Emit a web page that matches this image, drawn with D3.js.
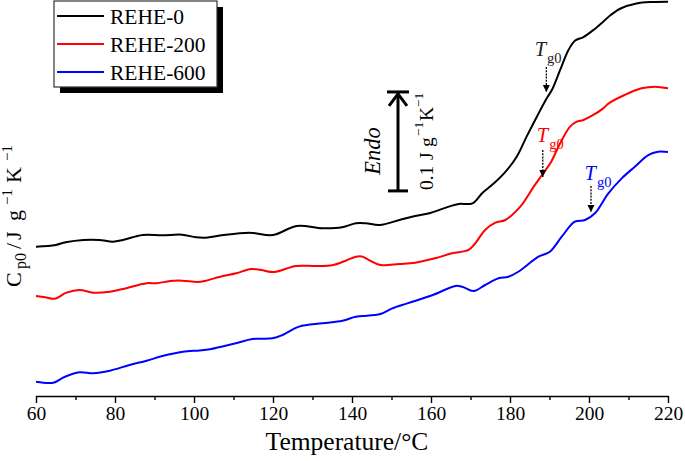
<!DOCTYPE html>
<html>
<head>
<meta charset="utf-8">
<script src="https://cdn.jsdelivr.net/npm/d3@7"></script>
<style>
  html, body { margin: 0; padding: 0; background: #fff; }
  svg { display: block; }
  text { font-family: "Liberation Serif", "Times New Roman", serif; }
</style>
</head>
<body>
<svg id="chart" width="685" height="461"></svg>
<script>
// ---- data ----
const seriesNames = ["REHE-0", "REHE-200", "REHE-600"];
const seriesColors = ["#000000", "#ff0000", "#0000ff"];

const tempBlack = [60, 65, 67.5, 72, 76, 79.5, 82, 87, 92, 97, 100.5, 103, 107, 114, 120, 126, 132.5, 137.5, 141, 143.5, 147, 152, 156, 160, 164.5, 167, 170.5, 173, 176, 179, 181.7, 184.2, 186.8, 189.3, 190.6, 192.7, 194.8, 196.5, 198.6, 201.1, 203.6, 205.5, 208, 212, 216, 220];
const cpBlack = [0.1597, 0.1615, 0.1643, 0.1667, 0.1667, 0.1649, 0.1667, 0.1719, 0.1716, 0.1722, 0.1695, 0.1691, 0.1716, 0.1743, 0.1719, 0.1813, 0.1789, 0.1799, 0.1841, 0.1841, 0.1823, 0.1875, 0.1917, 0.1951, 0.2014, 0.2042, 0.2049, 0.2156, 0.2260, 0.2385, 0.2534, 0.2743, 0.2951, 0.3143, 0.3229, 0.3438, 0.3646, 0.3745, 0.3781, 0.3854, 0.3941, 0.4010, 0.4078, 0.4130, 0.4146, 0.4149];

const tempRed = [60, 62.3, 64.8, 67.7, 71, 74.5, 78.7, 82, 88, 90.5, 94, 97, 101, 103, 107.3, 110.7, 114.4, 117, 120.3, 125.8, 130.8, 135, 138.4, 141, 142.5, 144.3, 147.2, 152, 156, 161, 165.3, 169.5, 171.2, 173.7, 176.3, 178.8, 182.6, 186, 188.1, 190.2, 192.7, 195.2, 196.9, 198.6, 201.1, 203.6, 205, 209, 213.3, 216.7, 220];
const cpRed = [0.1083, 0.1070, 0.1055, 0.1118, 0.1146, 0.1118, 0.1128, 0.1156, 0.1216, 0.1216, 0.1240, 0.1243, 0.1229, 0.1243, 0.1292, 0.1320, 0.1365, 0.1354, 0.1333, 0.1396, 0.1396, 0.1403, 0.1451, 0.1493, 0.1495, 0.1458, 0.1406, 0.1417, 0.1430, 0.1476, 0.1528, 0.1563, 0.1632, 0.1771, 0.1847, 0.1875, 0.2014, 0.2222, 0.2344, 0.2465, 0.2674, 0.2847, 0.2899, 0.2917, 0.2969, 0.3038, 0.3090, 0.3177, 0.3247, 0.3264, 0.3247];

const tempBlue = [60, 64.4, 67, 71, 74.5, 78.7, 83.7, 88, 92, 97.2, 101.4, 104, 110.6, 114.8, 119.9, 122.4, 126.6, 132.5, 137.6, 140.9, 142.6, 147.2, 150.2, 154, 160.3, 166.2, 167.9, 170.8, 173.7, 177.1, 179.6, 182.1, 187.2, 190.1, 193.1, 196.4, 199, 201.5, 204.9, 208.3, 211.6, 215, 217.5, 220];
const cpBlue = [0.0191, 0.0180, 0.0236, 0.0289, 0.0278, 0.0305, 0.0365, 0.0409, 0.0458, 0.0503, 0.0516, 0.0528, 0.0591, 0.0635, 0.0643, 0.0677, 0.0764, 0.0799, 0.0826, 0.0868, 0.0875, 0.0896, 0.0955, 0.1007, 0.1091, 0.1188, 0.1180, 0.1135, 0.1198, 0.1268, 0.1284, 0.1336, 0.1493, 0.1545, 0.1701, 0.1857, 0.1875, 0.1945, 0.2153, 0.2309, 0.2430, 0.2552, 0.2586, 0.2583];

const xTickValues = [60, 80, 100, 120, 140, 160, 180, 200, 220];
const xMinorTicks = [70, 90, 110, 130, 150, 170, 190, 210];

// Tg0 markers: temperature, Cp at dotted-arrow top, Cp at arrow tip
const tgTemps = [189.2, 188.3, 200.5];
const tgArrowTopCp = [0.3469, 0.2604, 0.2229];
const tgArrowTipCp = [0.3208, 0.2323, 0.1958];

// ---- chart ----
const svg = d3.select("#chart");
const x = d3.scaleLinear().domain([60, 220]).range([36, 668]);
const y = d3.scaleLinear().domain([0, 0.415]).range([400, 1.6]);
const axisY = 396;
const serif = '"Liberation Serif", "Times New Roman", serif';

const series = [
  { t: tempBlack, v: cpBlack },
  { t: tempRed, v: cpRed },
  { t: tempBlue, v: cpBlue }
];

const line = d3.line()
  .x(d => x(d[0]))
  .y(d => y(d[1]))
  .curve(d3.curveCatmullRom.alpha(0.5));

series.forEach((s, i) => {
  svg.append("path")
    .datum(s.t.map((t, j) => [t, s.v[j]]))
    .attr("d", line)
    .attr("fill", "none")
    .attr("stroke", seriesColors[i])
    .attr("stroke-width", 2)
    .attr("stroke-linejoin", "round");
});

// x axis
const xAxis = d3.axisBottom(x)
  .tickValues(xTickValues)
  .tickSize(7)
  .tickSizeOuter(0)
  .tickPadding(3)
  .tickFormat(d3.format("d"));
const gx = svg.append("g").attr("transform", `translate(0,${axisY})`).call(xAxis);
gx.select(".domain").attr("stroke", "#000").attr("stroke-width", 1.6);
gx.selectAll(".tick line").attr("stroke", "#000").attr("stroke-width", 1.4);
gx.selectAll(".tick text")
  .attr("font-size", 19.5)
  .attr("fill", "#000")
  .style("font-family", serif);

const gMinor = d3.axisBottom(x).tickValues(xMinorTicks).tickSize(4).tickFormat("");
const gm = svg.append("g").attr("transform", `translate(0,${axisY})`).call(gMinor);
gm.select(".domain").remove();
gm.selectAll(".tick line").attr("stroke", "#000").attr("stroke-width", 1.4);

svg.append("text")
  .attr("x", 347).attr("y", 450)
  .attr("text-anchor", "middle")
  .attr("font-size", 25.5)
  .text("Temperature/°C");

// y label (rotated, positioned along the axis)
const yl = svg.append("text")
  .attr("transform", "translate(21,287) rotate(-90)")
  .attr("font-size", 22);
yl.append("tspan").attr("x", 0).attr("y", 0).text("C");
yl.append("tspan").attr("x", 18).attr("y", 5).attr("font-size", 16).text("p0");
yl.append("tspan").attr("x", 38).attr("y", 0).text("/");
yl.append("tspan").attr("x", 47).attr("y", 0).text("J");
yl.append("tspan").attr("x", 66).attr("y", 0).text("g");
yl.append("tspan").attr("x", 82).attr("y", -9).attr("font-size", 15).text("−1");
yl.append("tspan").attr("x", 104).attr("y", 0).text("K");
yl.append("tspan").attr("x", 126).attr("y", -9).attr("font-size", 15).text("−1");

// legend
const lg = svg.append("g");
lg.append("rect").attr("x", 60).attr("y", 7).attr("width", 163).attr("height", 86).attr("fill", "#000");
lg.append("rect").attr("x", 54).attr("y", 1).attr("width", 163).attr("height", 86)
  .attr("fill", "#fff").attr("stroke", "#333").attr("stroke-width", 1.2);
seriesNames.forEach((name, i) => {
  const ly = 16 + i * 28;
  lg.append("line").attr("x1", 57).attr("x2", 104).attr("y1", ly).attr("y2", ly)
    .attr("stroke", seriesColors[i]).attr("stroke-width", 2);
  lg.append("text").attr("x", 110).attr("y", ly + 7.5).attr("font-size", 21.5).text(name);
});

// scale bar with arrow
const barX = 398;
const barTop = y(0.3209), barBot = y(0.2178);
const sb = svg.append("g").attr("stroke", "#000").attr("stroke-width", 3).attr("fill", "none");
sb.append("line").attr("x1", barX).attr("x2", barX).attr("y1", barTop).attr("y2", barBot);
sb.append("line").attr("x1", barX - 11).attr("x2", barX + 11).attr("y1", barTop).attr("y2", barTop);
sb.append("line").attr("x1", barX - 10).attr("x2", barX + 10).attr("y1", barBot).attr("y2", barBot);
sb.append("polyline").attr("points", `${barX - 9},${barTop + 14} ${barX},${barTop + 2} ${barX + 9},${barTop + 14}`)
  .attr("stroke-linejoin", "miter");

svg.append("text")
  .attr("transform", `translate(380,151) rotate(-90)`)
  .attr("text-anchor", "middle")
  .attr("font-size", 22.5)
  .attr("font-style", "italic")
  .text("Endo");

const sl = svg.append("text")
  .attr("transform", `translate(433,190) rotate(-90)`)
  .attr("font-size", 19.5);
sl.append("tspan").attr("x", 0).attr("y", 0).text("0.1");
sl.append("tspan").attr("x", 30).attr("y", 0).text("J");
sl.append("tspan").attr("x", 43).attr("y", 0).text("g");
sl.append("tspan").attr("x", 54).attr("y", -10).attr("font-size", 13.5).text("−1");
sl.append("tspan").attr("x", 69).attr("y", 0).text("K");
sl.append("tspan").attr("x", 83).attr("y", -10).attr("font-size", 13.5).text("−1");

// Tg0 markers
const defs = svg.append("defs");
defs.append("marker").attr("id", "ah").attr("viewBox", "0 0 10 10")
  .attr("refX", 10).attr("refY", 5).attr("markerWidth", 7).attr("markerHeight", 9)
  .attr("markerUnits", "userSpaceOnUse").attr("orient", "auto")
  .append("path").attr("d", "M0,0 L10,5 L0,10 Z").attr("fill", "#000");

const tgLabelOffsets = [[-11.7, -11], [-6, -8.5], [-6.5, -6.5]];
const tgColors = ["#222", "#ff0000", "#0000ff"];
tgTemps.forEach((t, i) => {
  const ax = x(t);
  svg.append("line")
    .attr("x1", ax).attr("x2", ax)
    .attr("y1", y(tgArrowTopCp[i])).attr("y2", y(tgArrowTipCp[i]))
    .attr("stroke", "#000").attr("stroke-width", 1.3)
    .attr("stroke-dasharray", "2,1.2")
    .attr("marker-end", "url(#ah)");
  const lx = ax + tgLabelOffsets[i][0];
  const lyb = y(tgArrowTopCp[i]) + tgLabelOffsets[i][1];
  const tt = svg.append("text").attr("x", lx).attr("y", lyb)
    .attr("fill", tgColors[i]).attr("font-size", 20.5);
  tt.append("tspan").attr("font-style", "italic").text("T");
  tt.append("tspan").attr("font-size", 14.5).attr("dx", 1).attr("dy", 7).text("g0");
});
</script>
</body>
</html>
